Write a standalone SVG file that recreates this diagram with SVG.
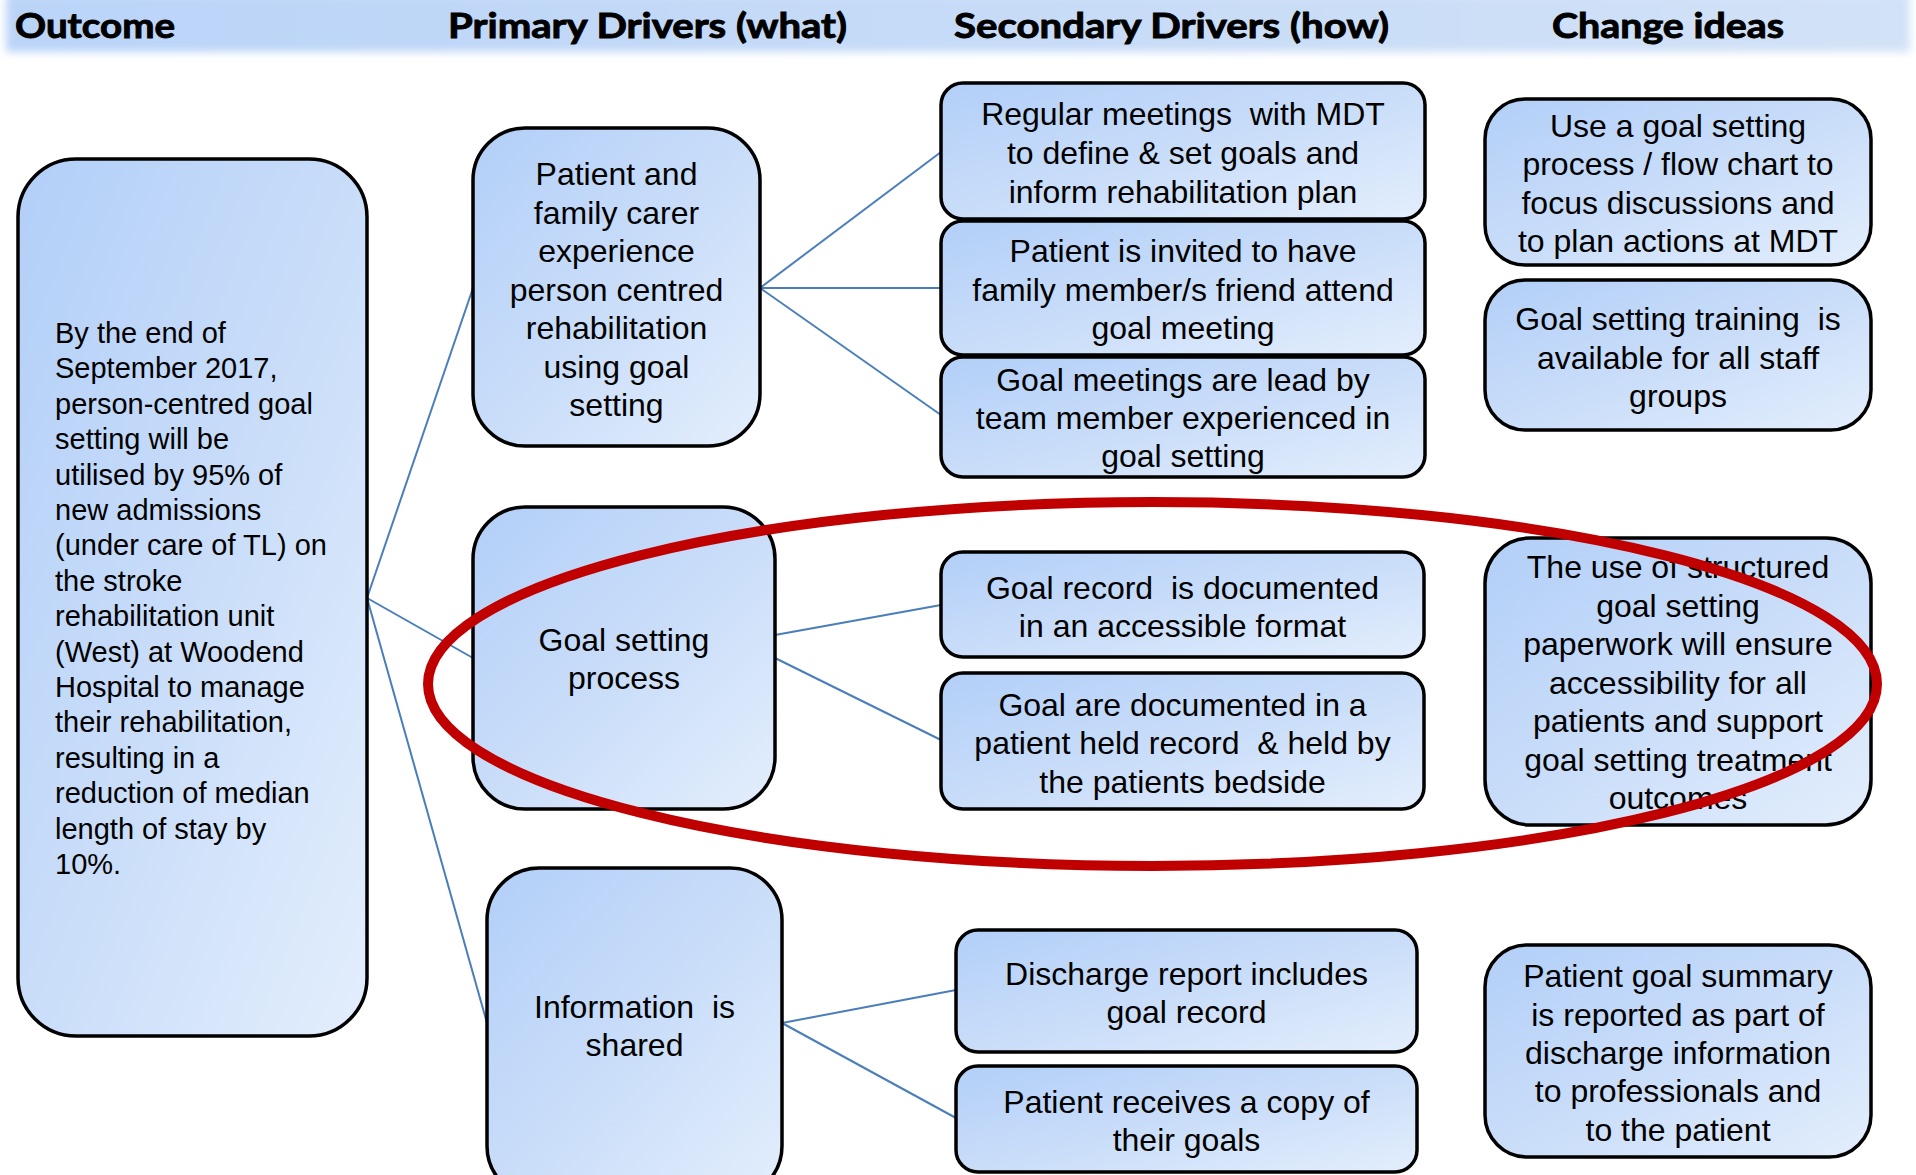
<svg xmlns="http://www.w3.org/2000/svg" width="1916" height="1175" viewBox="0 0 1916 1175">
  <defs>
    <linearGradient id="boxFill" x1="0" y1="0" x2="1" y2="1">
      <stop offset="0" stop-color="#b2cff8"/>
      <stop offset="0.5" stop-color="#c9ddf9"/>
      <stop offset="1" stop-color="#e3eefc"/>
    </linearGradient>
    <linearGradient id="bandFill" x1="0" y1="0" x2="1" y2="0">
      <stop offset="0" stop-color="#bad4f8"/>
      <stop offset="1" stop-color="#d2e2f7"/>
    </linearGradient>
    <filter id="soft" x="-5%" y="-50%" width="110%" height="200%">
      <feGaussianBlur stdDeviation="4"/>
    </filter>
  </defs>
  <style>
    .box { fill: url(#boxFill); stroke: #000; stroke-width: 3.5; }
    .txt { font-family: "Liberation Sans", Arial, sans-serif; font-size: 32px; fill: #000; text-anchor: middle; }
    .out { font-family: "Liberation Sans", Arial, sans-serif; font-size: 29px; fill: #000; }
    .head { font-family: Lato, "Open Sans", sans-serif; font-weight: bold; font-size: 34px; fill: #000; stroke: #000; stroke-width: 0.9; }
    .link { stroke: #4a7ebb; stroke-width: 2; fill: none; }
  </style>

  <rect width="1916" height="1175" fill="#fff"/>

  <!-- column header band -->
  <g id="header">
    <rect x="6" y="-6" width="1904" height="58" fill="url(#bandFill)" filter="url(#soft)"/>
    <text class="head" x="15" y="38" textLength="160" lengthAdjust="spacingAndGlyphs">Outcome</text>
    <text class="head" x="448" y="38" textLength="399" lengthAdjust="spacingAndGlyphs">Primary Drivers (what)</text>
    <text class="head" x="954" y="38" textLength="435" lengthAdjust="spacingAndGlyphs">Secondary Drivers (how)</text>
    <text class="head" x="1552" y="38" textLength="232" lengthAdjust="spacingAndGlyphs">Change ideas</text>
  </g>

  <!-- connectors -->
  <g id="connectors">
    <line class="link" x1="367" y1="598" x2="473" y2="288"/>
    <line class="link" x1="367" y1="598" x2="473" y2="658"/>
    <line class="link" x1="367" y1="598" x2="487" y2="1023"/>
    <line class="link" x1="760" y1="288" x2="941" y2="152"/>
    <line class="link" x1="760" y1="288" x2="941" y2="288"/>
    <line class="link" x1="760" y1="288" x2="941" y2="415"/>
    <line class="link" x1="775" y1="635" x2="941" y2="605"/>
    <line class="link" x1="775" y1="658" x2="941" y2="740"/>
    <line class="link" x1="782" y1="1023" x2="956" y2="990"/>
    <line class="link" x1="782" y1="1023" x2="956" y2="1118"/>
  </g>

  <!-- outcome -->
  <g id="outcome">
    <rect class="box" x="18" y="159" width="349" height="877" rx="58"/>
    <text class="out" x="55" y="343">By the end of</text>
    <text class="out" x="55" y="378.4">September 2017,</text>
    <text class="out" x="55" y="413.8">person-centred goal</text>
    <text class="out" x="55" y="449.2">setting will be</text>
    <text class="out" x="55" y="484.6">utilised by 95% of</text>
    <text class="out" x="55" y="520">new admissions</text>
    <text class="out" x="55" y="555.4">(under care of TL) on</text>
    <text class="out" x="55" y="590.8">the stroke</text>
    <text class="out" x="55" y="626.2">rehabilitation unit</text>
    <text class="out" x="55" y="661.6">(West) at Woodend</text>
    <text class="out" x="55" y="697">Hospital to manage</text>
    <text class="out" x="55" y="732.4">their rehabilitation,</text>
    <text class="out" x="55" y="767.8">resulting in a</text>
    <text class="out" x="55" y="803.2">reduction of median</text>
    <text class="out" x="55" y="838.6">length of stay by</text>
    <text class="out" x="55" y="874">10%.</text>
  </g>

  <!-- primary drivers -->
  <g id="primary-experience">
    <rect class="box" x="473" y="128" width="287" height="318" rx="52"/>
    <text class="txt" x="616.5" y="185">Patient and</text>
    <text class="txt" x="616.5" y="223.5">family carer</text>
    <text class="txt" x="616.5" y="262">experience</text>
    <text class="txt" x="616.5" y="300.5">person centred</text>
    <text class="txt" x="616.5" y="339">rehabilitation</text>
    <text class="txt" x="616.5" y="377.5">using goal</text>
    <text class="txt" x="616.5" y="416">setting</text>
  </g>
  <g id="primary-process">
    <rect class="box" x="473" y="507" width="302" height="302" rx="52"/>
    <text class="txt" x="624" y="651">Goal setting</text>
    <text class="txt" x="624" y="689">process</text>
  </g>
  <g id="primary-shared">
    <rect class="box" x="487" y="868" width="295" height="330" rx="52"/>
    <text class="txt" x="634.5" y="1018" xml:space="preserve">Information  is</text>
    <text class="txt" x="634.5" y="1056">shared</text>
  </g>

  <!-- secondary drivers -->
  <g id="secondary-mdt">
    <rect class="box" x="941" y="83" width="484" height="136" rx="22"/>
    <text class="txt" x="1183" y="125" xml:space="preserve">Regular meetings  with MDT</text>
    <text class="txt" x="1183" y="164">to define &amp; set goals and</text>
    <text class="txt" x="1183" y="203">inform rehabilitation plan</text>
  </g>
  <g id="secondary-family">
    <rect class="box" x="941" y="221" width="484" height="134" rx="22"/>
    <text class="txt" x="1183" y="262">Patient is invited to have</text>
    <text class="txt" x="1183" y="301">family member/s friend attend</text>
    <text class="txt" x="1183" y="339">goal meeting</text>
  </g>
  <g id="secondary-lead">
    <rect class="box" x="941" y="357" width="484" height="120" rx="22"/>
    <text class="txt" x="1183" y="391">Goal meetings are lead by</text>
    <text class="txt" x="1183" y="429">team member experienced in</text>
    <text class="txt" x="1183" y="467">goal setting</text>
  </g>
  <g id="secondary-record">
    <rect class="box" x="941" y="552" width="483" height="105" rx="22"/>
    <text class="txt" x="1182.5" y="599" xml:space="preserve">Goal record  is documented</text>
    <text class="txt" x="1182.5" y="637">in an accessible format</text>
  </g>
  <g id="secondary-bedside">
    <rect class="box" x="941" y="673" width="483" height="136" rx="22"/>
    <text class="txt" x="1182.5" y="716">Goal are documented in a</text>
    <text class="txt" x="1182.5" y="754" xml:space="preserve">patient held record  &amp; held by</text>
    <text class="txt" x="1182.5" y="793">the patients bedside</text>
  </g>
  <g id="secondary-discharge">
    <rect class="box" x="956" y="930" width="461" height="122" rx="22"/>
    <text class="txt" x="1186.5" y="985">Discharge report includes</text>
    <text class="txt" x="1186.5" y="1023">goal record</text>
  </g>
  <g id="secondary-copy">
    <rect class="box" x="956" y="1066" width="461" height="106" rx="22"/>
    <text class="txt" x="1186.5" y="1113">Patient receives a copy of</text>
    <text class="txt" x="1186.5" y="1151">their goals</text>
  </g>

  <!-- change ideas -->
  <g id="change-flowchart">
    <rect class="box" x="1485" y="99" width="386" height="166" rx="40"/>
    <text class="txt" x="1678" y="137">Use a goal setting</text>
    <text class="txt" x="1678" y="175">process / flow chart to</text>
    <text class="txt" x="1678" y="214">focus discussions and</text>
    <text class="txt" x="1678" y="252">to plan actions at MDT</text>
  </g>
  <g id="change-training">
    <rect class="box" x="1485" y="280" width="386" height="150" rx="40"/>
    <text class="txt" x="1678" y="330" xml:space="preserve">Goal setting training  is</text>
    <text class="txt" x="1678" y="369">available for all staff</text>
    <text class="txt" x="1678" y="407">groups</text>
  </g>
  <g id="change-paperwork">
    <rect class="box" x="1485" y="538" width="386" height="287" rx="45"/>
    <text class="txt" x="1678" y="578">The use of structured</text>
    <text class="txt" x="1678" y="616.5">goal setting</text>
    <text class="txt" x="1678" y="655">paperwork will ensure</text>
    <text class="txt" x="1678" y="693.5">accessibility for all</text>
    <text class="txt" x="1678" y="732">patients and support</text>
    <text class="txt" x="1678" y="770.5">goal setting treatment</text>
    <text class="txt" x="1678" y="809">outcomes</text>
  </g>
  <g id="change-summary">
    <rect class="box" x="1485" y="945" width="386" height="212" rx="42"/>
    <text class="txt" x="1678" y="987">Patient goal summary</text>
    <text class="txt" x="1678" y="1026">is reported as part of</text>
    <text class="txt" x="1678" y="1064">discharge information</text>
    <text class="txt" x="1678" y="1102">to professionals and</text>
    <text class="txt" x="1678" y="1141">to the patient</text>
  </g>

  <!-- highlight ring around the goal setting process row -->
  <g id="highlight">
    <ellipse cx="1152.5" cy="684" rx="724.5" ry="182" fill="none" stroke="#c00000" stroke-width="10"/>
  </g>
</svg>
